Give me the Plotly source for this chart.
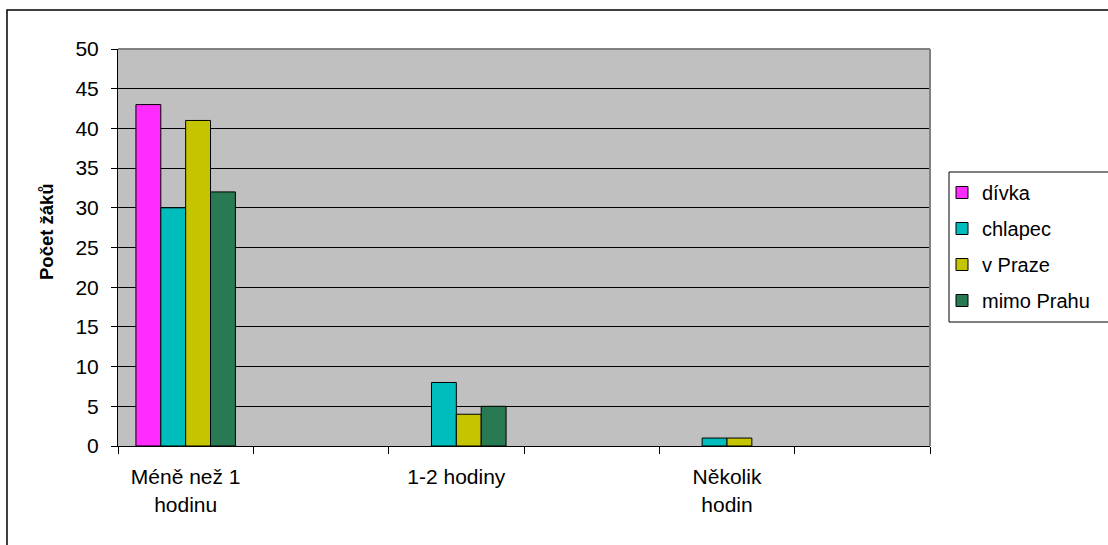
import plotly.graph_objects as go

categories = ["Méně než 1<br>hodinu", " ", "1-2 hodiny", "  ", "Několik<br>hodin", "   "]
divka = [43, 0, 0, 0, 0, 0]
chlapec = [30, 0, 8, 0, 1, 0]
v_praze = [41, 0, 4, 0, 1, 0]
mimo_prahu = [32, 0, 5, 0, 0, 0]
series_names = ["dívka", "chlapec", "v Praze", "mimo Prahu"]
y_ticks = list(range(0, 51, 5))

colors = ["#FF2BFF", "#00BDBD", "#C4C400", "#287A52"]

W, H = 1108, 545
L, R, T, B = 118, 930, 49, 446
pw, ph = R - L, B - T

FONT = "Arial, 'Liberation Sans', sans-serif"

fig = go.Figure()
for i, (name, vals, c) in enumerate(zip(series_names, [divka, chlapec, v_praze, mimo_prahu], colors)):
    fig.add_trace(go.Bar(
        x=categories, y=vals, name=name, legendgroup=f"g{i}",
        marker=dict(color=c, line=dict(color="#000000", width=[1 if v else 0 for v in vals])),
    ))

def px_x(x):
    return (x - L) / pw

def px_y(y):
    return (B - y) / ph

shapes = [
    # outer chart frame (cut off at right and bottom)
    dict(type="rect", xref="paper", yref="paper",
         x0=px_x(7), x1=px_x(W + 20), y0=px_y(H + 20), y1=px_y(10),
         line=dict(color="#000000", width=1.5), fillcolor="rgba(0,0,0,0)", layer="above"),
    # plot-area border top/right
    dict(type="line", xref="paper", yref="paper", x0=0, x1=1, y0=1, y1=1,
         line=dict(color="#808080", width=2), layer="above"),
    dict(type="line", xref="paper", yref="paper", x0=1, x1=1, y0=0, y1=1,
         line=dict(color="#808080", width=2), layer="above"),
    # legend box (extends past the right edge)
    dict(type="rect", xref="paper", yref="paper",
         x0=px_x(949), x1=px_x(W + 20), y0=px_y(322), y1=px_y(172),
         line=dict(color="#000000", width=1), fillcolor="rgba(0,0,0,0)", layer="above"),
]

annotations = [
    dict(text="<b>Počet žáků</b>", xref="paper", yref="paper",
         x=px_x(46), y=px_y(232), textangle=-90, showarrow=False,
         xanchor="center", yanchor="middle",
         font=dict(family=FONT, size=18.5, color="#000000")),
]

fig.update_layout(
    width=W, height=H,
    margin=dict(l=L, r=W - R, t=T, b=H - B, pad=0),
    paper_bgcolor="#FFFFFF",
    plot_bgcolor="#C0C0C0",
    font=dict(family=FONT, size=20, color="#000000"),
    barmode="group",
    bargap=0.265,
    bargroupgap=0,
    showlegend=True,
    legend=dict(
        x=px_x(942), y=px_y(173), xanchor="left", yanchor="top",
        bgcolor="rgba(0,0,0,0)", borderwidth=0,
        font=dict(family=FONT, size=20, color="#000000"),
        traceorder="grouped",
        tracegroupgap=7,
    ),
    shapes=shapes,
    annotations=annotations,
    xaxis=dict(
        type="category",
        categoryorder="array", categoryarray=categories,
        range=[-0.5, len(categories) - 0.5],
        showline=True, linecolor="#000000", linewidth=1,
        ticks="outside", ticklen=7, tickcolor="#000000", tickwidth=1,
        tickson="boundaries",
        showgrid=False,
        tickfont=dict(family=FONT, size=21, color="#000000"),
        ticklabelstandoff=12,
        fixedrange=True,
    ),
    yaxis=dict(
        range=[0, 50], tickvals=y_ticks,
        showline=True, linecolor="#000000", linewidth=1,
        ticks="outside", ticklen=6, tickcolor="#000000", tickwidth=1,
        showgrid=True, gridcolor="#000000", gridwidth=1,
        zeroline=False,
        tickfont=dict(family=FONT, size=21, color="#000000"),
        ticklabelstandoff=8,
        fixedrange=True,
    ),
)

fig.write_html("out.html")
